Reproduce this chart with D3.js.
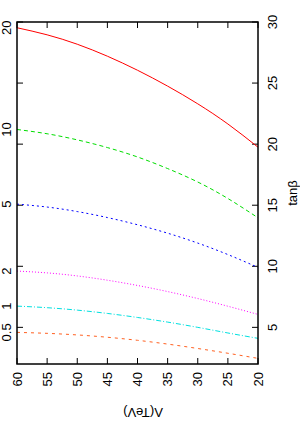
<!DOCTYPE html>
<html>
<head>
<meta charset="utf-8">
<script src="https://cdn.jsdelivr.net/npm/d3@7"></script>
<style>
  body { margin: 0; background: #fff; }
  svg { display: block; font-family: "Liberation Sans", Arial, sans-serif; }
</style>
</head>
<body>
<div id="chart"></div>
<script>
// Lambda (TeV) sample points, left to right as drawn
var lambdaVals = [60, 55, 50, 45, 40, 35, 30, 25, 20];
// curve labels (shown at the left edge)
var curveLabels = ["20", "10", "5", "2", "1", "0.5"];
// tan(beta) values per curve
var tb20  = [29.53, 28.95, 28.18, 27.20, 26.05, 24.75, 23.30, 21.65, 19.75];
var tb10  = [21.20, 20.85, 20.35, 19.72, 18.95, 18.00, 16.90, 15.55, 13.97];
var tb5   = [15.09, 14.85, 14.48, 13.99, 13.40, 12.71, 11.90, 10.96, 9.91];
var tb2   = [9.61, 9.46, 9.21, 8.86, 8.43, 7.93, 7.36, 6.73, 6.06];
var tb1   = [6.74, 6.61, 6.41, 6.14, 5.81, 5.43, 5.00, 4.54, 4.10];
var tb05  = [4.59, 4.51, 4.38, 4.19, 3.94, 3.63, 3.27, 2.88, 2.46];
var xTicks = [60, 55, 50, 45, 40, 35, 30, 25, 20];
var yTicks = [5, 10, 15, 20, 25, 30];

var series = [tb20, tb10, tb5, tb2, tb1, tb05];
var colors = ["#ff0000", "#00dd00", "#0000ff", "#ff00ff", "#00e0e0", "#ff6020"];
var dashes = [null, "4,3", "2,3", "1,2", "5,2,1,2", "3,4"];

var W = 300, H = 427;
var m = {left: 17, right: 258, top: 22, bottom: 364};
var fs = 13;

var svg = d3.select("#chart").append("svg")
    .attr("width", W).attr("height", H);

var x = d3.scaleLinear().domain([60, 20]).range([m.left, m.right]);
var y = d3.scaleLinear().domain([2, 30]).range([m.bottom, m.top]);

// ticks (inward, mirrored)
var tickLen = 6;
var tk = svg.append("g").attr("stroke", "#000").attr("stroke-width", 1);
xTicks.forEach(function(t) {
  tk.append("line").attr("x1", x(t)).attr("x2", x(t)).attr("y1", m.bottom).attr("y2", m.bottom - tickLen);
  tk.append("line").attr("x1", x(t)).attr("x2", x(t)).attr("y1", m.top).attr("y2", m.top + tickLen);
});
yTicks.forEach(function(t) {
  tk.append("line").attr("x1", m.right).attr("x2", m.right - tickLen).attr("y1", y(t)).attr("y2", y(t));
  tk.append("line").attr("x1", m.left).attr("x2", m.left + tickLen).attr("y1", y(t)).attr("y2", y(t));
});

// curves
var line = d3.line()
  .x(function(d, i) { return x(lambdaVals[i]); })
  .y(function(d) { return y(d); })
  .curve(d3.curveNatural);

series.forEach(function(s, i) {
  svg.append("path")
    .attr("d", line(s))
    .attr("fill", "none")
    .attr("stroke", colors[i])
    .attr("stroke-width", 1)
    .attr("stroke-dasharray", dashes[i]);
});

// frame
svg.append("rect")
  .attr("x", m.left).attr("y", m.top)
  .attr("width", m.right - m.left).attr("height", m.bottom - m.top)
  .attr("fill", "none").attr("stroke", "#000").attr("stroke-width", 1.5);

// bottom tick labels (rotated)
xTicks.forEach(function(t) {
  svg.append("text")
    .attr("transform", "translate(" + x(t) + ",372) rotate(-90)")
    .attr("text-anchor", "end")
    .attr("dominant-baseline", "central")
    .attr("font-size", fs)
    .text(t);
});

// right tick labels
yTicks.forEach(function(t) {
  svg.append("text")
    .attr("transform", "translate(272," + y(t) + ") rotate(-90)")
    .attr("text-anchor", "middle")
    .attr("dominant-baseline", "central")
    .attr("font-size", fs)
    .text(t);
});

// curve labels on the left
series.forEach(function(s, i) {
  svg.append("text")
    .attr("transform", "translate(6.5," + y(s[0]) + ") rotate(-90)")
    .attr("text-anchor", "middle")
    .attr("dominant-baseline", "central")
    .attr("font-size", fs)
    .text(curveLabels[i]);
});

// axis titles
svg.append("text")
  .attr("transform", "translate(292,193) rotate(-90)")
  .attr("text-anchor", "middle")
  .attr("dominant-baseline", "central")
  .attr("font-size", fs)
  .text("tanβ");

svg.append("text")
  .attr("transform", "translate(143,412) rotate(180)")
  .attr("text-anchor", "middle")
  .attr("dominant-baseline", "central")
  .attr("font-size", fs)
  .text("Λ(TeV)");
</script>
</body>
</html>
